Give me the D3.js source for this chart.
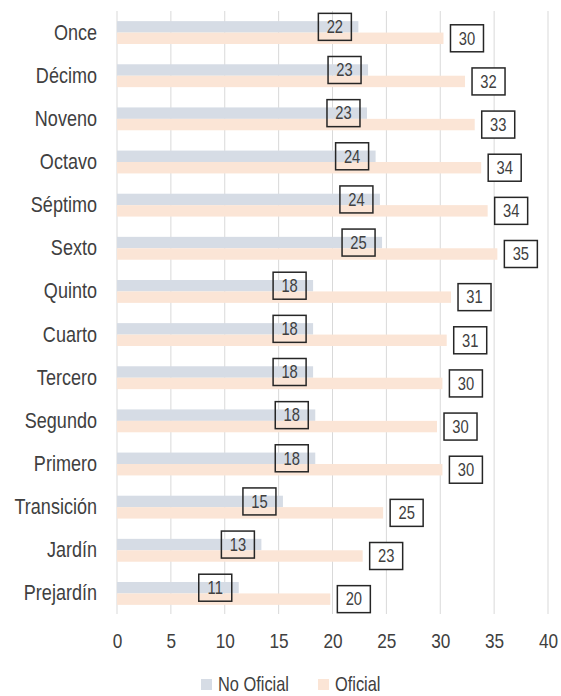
<!DOCTYPE html>
<html>
<head>
<meta charset="utf-8">
<script src="https://cdn.jsdelivr.net/npm/d3@7"></script>
<style>
  body { margin: 0; background: #fff; }
  svg text { font-family: "Liberation Sans", Arial, sans-serif; fill: #404040; }
</style>
</head>
<body>
<div id="chart"></div>
<script>
// grades, top to bottom
const grades = ["Once", "Décimo", "Noveno", "Octavo", "Séptimo", "Sexto", "Quinto",
    "Cuarto", "Tercero", "Segundo", "Primero", "Transición", "Jardín", "Prejardín"];

// values (labels show them rounded)
const noOficial = [22.4, 23.3, 23.2, 24.0, 24.4, 24.6, 18.2, 18.2, 18.2, 18.4, 18.4, 15.4, 13.4, 11.3];
const oficial = [30.3, 32.3, 33.2, 33.8, 34.4, 35.3, 31.0, 30.6, 30.2, 29.7, 30.2, 24.7, 22.8, 19.8];

const seriesNames = ["No Oficial", "Oficial"];
const xTicks = [0, 5, 10, 15, 20, 25, 30, 35, 40];

const width = 561;
const height = 696;
const colors = { "No Oficial": "#d6dce5", "Oficial": "#fbe5d6" };

// no Arial Narrow here, so squeeze Liberation Sans sideways
const narrow = "scale(0.82,1)";

const svg = d3.select("#chart")
    .append("svg")
    .attr("width", width)
    .attr("height", height);

// scales
const x = d3.scaleLinear().domain([0, 40]).range([117, 548]);
const y = d3.scaleBand().domain(grades).range([11, 615])
    .paddingInner(0.47).paddingOuter(0.235);
const ySub = d3.scaleBand().domain(seriesNames).range([0, y.bandwidth()]);

// gridlines
svg.append("g")
    .selectAll("line")
    .data(xTicks)
    .enter()
    .append("line")
    .attr("x1", d => x(d))
    .attr("x2", d => x(d))
    .attr("y1", 11)
    .attr("y2", 614)
    .attr("stroke", "#d9d9d9")
    .attr("stroke-width", 1);

// x axis labels
const xAxis = svg.append("g")
    .attr("transform", "translate(0,614)")
    .call(d3.axisBottom(x).tickValues(xTicks).tickSize(0).tickPadding(19));
xAxis.select(".domain").remove();
xAxis.selectAll("text")
    .style("font-size", "21px")
    .attr("fill", "#404040")
    .attr("transform", narrow);

// y axis labels
const yAxis = svg.append("g")
    .attr("transform", "translate(97,0)")
    .call(d3.axisLeft(y).tickSize(0).tickPadding(0));
yAxis.select(".domain").remove();
yAxis.selectAll("text")
    .style("font-size", "22px")
    .attr("fill", "#404040")
    .attr("transform", narrow);

// rows
const rows = grades.map((g, i) => ({ grade: g, "No Oficial": noOficial[i], "Oficial": oficial[i] }));

const groups = svg.selectAll(".row")
    .data(rows)
    .enter()
    .append("g")
    .attr("class", "row")
    .attr("transform", d => `translate(0,${y(d.grade)})`);

groups.selectAll("rect.bar")
    .data(d => seriesNames.map(s => ({ series: s, value: d[s] })))
    .enter()
    .append("rect")
    .attr("class", "bar")
    .attr("x", x(0))
    .attr("y", d => ySub(d.series))
    .attr("width", d => x(d.value) - x(0))
    .attr("height", ySub.bandwidth())
    .attr("fill", d => colors[d.series]);

// data labels in boxes
const boxW = 33, boxH = 27;
const labels = groups.selectAll("g.lbl")
    .data(d => seriesNames.map(s => ({ series: s, value: d[s] })))
    .enter()
    .append("g")
    .attr("class", "lbl")
    .attr("transform", d => {
        const cy = ySub(d.series) + ySub.bandwidth() / 2;
        const cx = d.series === "No Oficial"
            ? x(d.value) - 7 - boxW / 2
            : x(d.value) + 7 + boxW / 2;
        return `translate(${cx},${cy})`;
    });

labels.append("rect")
    .attr("x", -boxW / 2)
    .attr("y", -boxH / 2)
    .attr("width", boxW)
    .attr("height", boxH)
    .attr("fill", d => d.series === "No Oficial" ? "none" : "#fff")
    .attr("stroke", "#262626")
    .attr("stroke-width", 1.5);

labels.append("text")
    .attr("text-anchor", "middle")
    .attr("dy", "0.35em")
    .attr("transform", narrow)
    .style("font-size", "18px")
    .text(d => Math.round(d.value));

// legend
const legend = svg.selectAll(".legend")
    .data(seriesNames)
    .enter()
    .append("g")
    .attr("class", "legend")
    .attr("transform", (d, i) => `translate(${i === 0 ? 201 : 318},679)`);

legend.append("rect")
    .attr("width", 11)
    .attr("height", 11)
    .attr("fill", d => colors[d]);

legend.append("g")
    .attr("transform", "translate(17,12)")
    .append("text")
    .attr("transform", narrow)
    .style("font-size", "20px")
    .text(d => d);
</script>
</body>
</html>
